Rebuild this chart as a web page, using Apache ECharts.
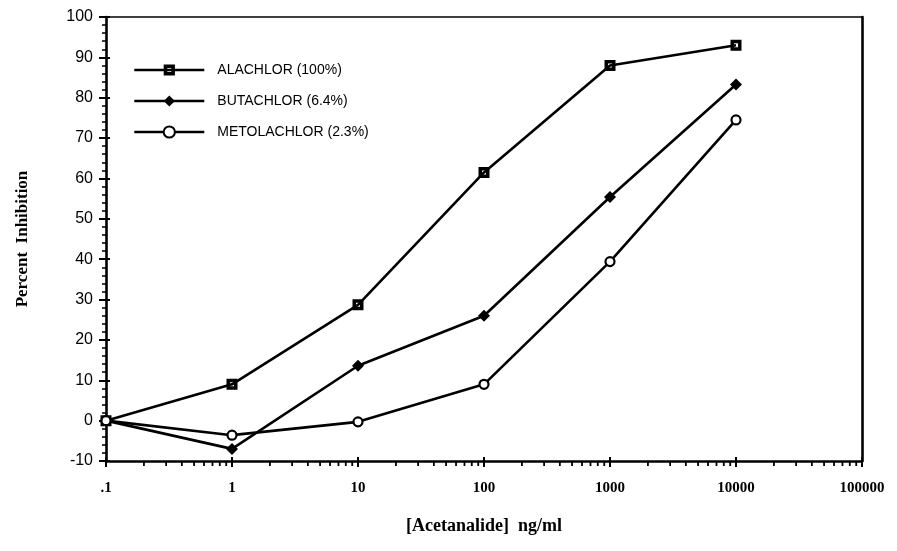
<!DOCTYPE html>
<html>
<head>
<meta charset="utf-8">
<script src="https://cdn.jsdelivr.net/npm/echarts@6/dist/echarts.min.js"></script>
<style>
html,body{margin:0;padding:0;background:#fff;}
#c{width:897px;height:551px;}
</style>
</head>
<body>
<div id="c"></div>
<script>
// ---- data ----
const concentrations = [0.1, 1, 10, 100, 1000, 10000];
const alachlor = [0, 9, 28.7, 61.5, 88, 93];
const butachlor = [0, -7, 13.6, 26, 55.4, 83.3];
const metolachlor = [0, -3.6, -0.3, 9, 39.4, 74.5];
const seriesNames = ['ALACHLOR (100%)', 'BUTACHLOR (6.4%)', 'METOLACHLOR (2.3%)'];
const xTickLabels = ['.1', '1', '10', '100', '1000', '10000', '100000'];
const xMinorMultipliers = [2, 3, 4, 5, 6, 7, 8, 9];
const xDecades = [0.1, 1, 10, 100, 1000, 10000];

const pairs = arr => concentrations.map((c, i) => [c, arr[i]]);
const minorTicks = [];
xDecades.forEach(d => xMinorMultipliers.forEach(m => minorTicks.push([d * m, -10])));

const squareSym = 'path://M0,0H10V10H0Z M3.2,3.2V6.8H6.8V3.2Z';

const chart = echarts.init(document.getElementById('c'), null, {renderer: 'canvas'});
const lineStyle = {color: '#000', width: 2.6};
const xLabelFmt = v => {
  const k = Math.round(Math.log10(v)) + 1;
  return xTickLabels[k] !== undefined ? xTickLabels[k] : '';
};

chart.setOption({
  animation: false,
  backgroundColor: '#fff',
  grid: {left: 106, right: 35, top: 17, bottom: 90, containLabel: false},
  legend: {
    orient: 'vertical', left: 128, top: 58,
    itemWidth: 70, itemHeight: 14, itemGap: 17,
    lineStyle: {width: 2.6},
    textStyle: {fontFamily: 'Liberation Sans, Arial, sans-serif', fontSize: 14, color: '#000', padding: [0, 0, 0, 8]},
    data: seriesNames
  },
  xAxis: [{
    type: 'log', logBase: 10, min: 0.1, max: 100000, interval: 1,
    position: 'bottom',
    axisLine: {show: true, onZero: false, lineStyle: {color: '#000', width: 2.6}},
    axisTick: {show: true, length: 6, lineStyle: {color: '#000', width: 2}},
    axisLabel: {formatter: xLabelFmt, color: '#000', fontFamily: 'Liberation Serif, Times New Roman, serif', fontWeight: 'bold', fontSize: 15, margin: 20},
    splitLine: {show: false},
    name: '[Acetanalide]  ng/ml', nameLocation: 'middle', nameGap: 56,
    nameTextStyle: {color: '#000', fontFamily: 'Liberation Serif, Times New Roman, serif', fontWeight: 'bold', fontSize: 18}
  }, {
    type: 'log', logBase: 10, min: 0.1, max: 100000, interval: 1,
    position: 'top',
    axisLine: {show: true, onZero: false, lineStyle: {color: '#000', width: 1.6}},
    axisTick: {show: false}, axisLabel: {show: false}, splitLine: {show: false}
  }, {
    type: 'log', logBase: 10, min: 0.1, max: 100000, interval: 1,
    position: 'bottom',
    axisLine: {show: false, onZero: false},
    axisTick: {show: true, inside: true, length: 4, lineStyle: {color: '#000', width: 2}},
    axisLabel: {show: false}, splitLine: {show: false}
  }],
  yAxis: [{
    type: 'value', min: -10, max: 100, interval: 10,
    position: 'left',
    axisLine: {show: true, onZero: false, lineStyle: {color: '#000', width: 2.6}},
    axisTick: {show: true, length: 7, lineStyle: {color: '#000', width: 2}},
    minorTick: {show: true, splitNumber: 5, length: 4, lineStyle: {color: '#000', width: 1.5}},
    axisLabel: {color: '#000', fontFamily: 'Liberation Sans, Arial, sans-serif', fontSize: 16, margin: 13},
    splitLine: {show: false},
    name: 'Percent  Inhibition', nameLocation: 'middle', nameGap: 75,
    nameTextStyle: {color: '#000', fontFamily: 'Liberation Serif, Times New Roman, serif', fontWeight: 'bold', fontSize: 17}
  }, {
    type: 'value', min: -10, max: 100, interval: 10,
    position: 'right',
    axisLine: {show: true, onZero: false, lineStyle: {color: '#000', width: 2.6}},
    axisTick: {show: false}, axisLabel: {show: false}, splitLine: {show: false}
  }, {
    type: 'value', min: -10, max: 100, interval: 10,
    position: 'left',
    axisLine: {show: false, onZero: false},
    axisTick: {show: true, inside: true, length: 4, lineStyle: {color: '#000', width: 2}},
    axisLabel: {show: false}, splitLine: {show: false}
  }],
  series: [{
    name: seriesNames[0], type: 'line', data: pairs(alachlor),
    symbol: squareSym, symbolSize: 11, showAllSymbol: true,
    lineStyle: lineStyle, itemStyle: {color: '#000', borderWidth: 0}
  }, {
    name: seriesNames[1], type: 'line', data: pairs(butachlor),
    symbol: 'diamond', symbolSize: 12,
    lineStyle: lineStyle, itemStyle: {color: '#000'}
  }, {
    name: seriesNames[2], type: 'line', data: pairs(metolachlor),
    symbol: 'circle', symbolSize: 9,
    lineStyle: lineStyle, itemStyle: {color: '#fff', borderColor: '#000', borderWidth: 2.2}
  }, {
    type: 'custom', data: minorTicks, clip: false, silent: true,
    renderItem: (params, api) => {
      const p = api.coord([api.value(0), api.value(1)]);
      return {type: 'line', shape: {x1: p[0], y1: p[1], x2: p[0], y2: p[1] + 5}, style: {stroke: '#000', lineWidth: 1.8}};
    }
  }]
});
</script>
</body>
</html>
